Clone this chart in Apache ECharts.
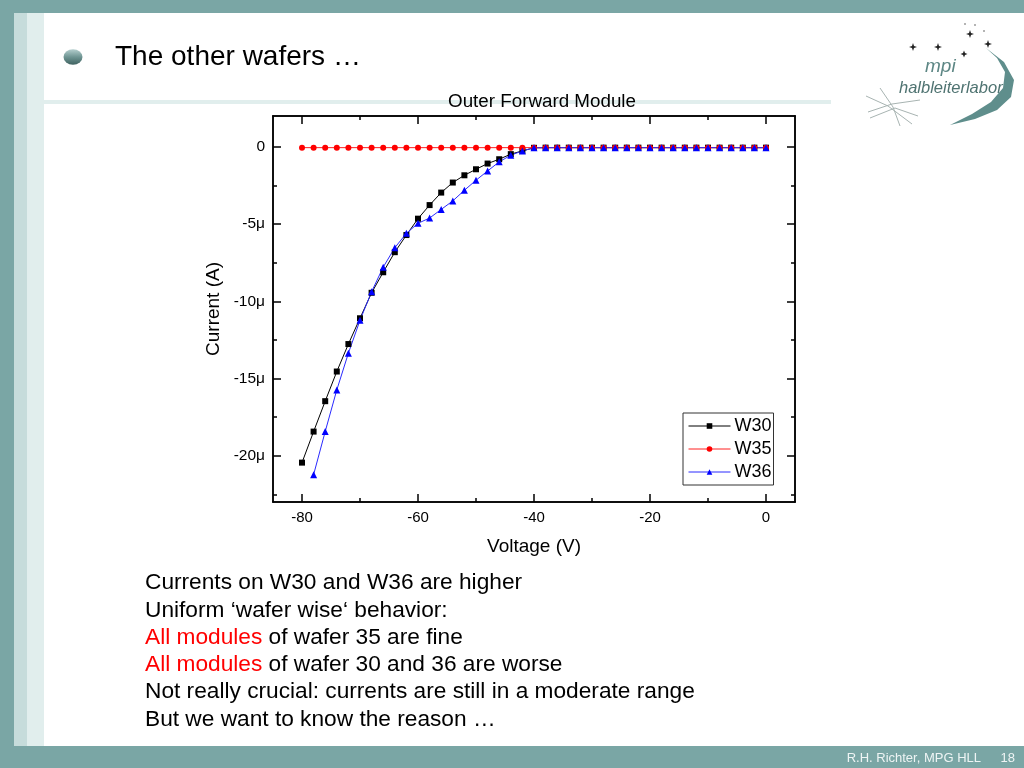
<!DOCTYPE html>
<html>
<head>
<meta charset="utf-8">
<script src="https://cdn.jsdelivr.net/npm/echarts@6/dist/echarts.min.js"></script>
<style>html,body{margin:0;padding:0;background:#fff;}#c{width:1024px;height:768px;}</style>
</head>
<body>
<div id="c"></div>
<script>
// ---- data (current in µA) ----
const voltages = [-80,-78,-76,-74,-72,-70,-68,-66,-64,-62,-60,-58,-56,-54,-52,-50,-48,-46,-44,-42,-40,
  -38,-36,-34,-32,-30,-28,-26,-24,-22,-20,-18,-16,-14,-12,-10,-8,-6,-4,-2,0];
const w30 = [-20.45,-18.44,-16.47,-14.55,-12.77,-11.10,-9.45,-8.12,-6.82,-5.71,-4.65,-3.77,-2.96,-2.31,-1.84,-1.45,-1.08,-0.80,-0.47,-0.26,-0.06,
  -0.05,-0.05,-0.05,-0.05,-0.05,-0.05,-0.05,-0.05,-0.05,-0.05,-0.05,-0.05,-0.05,-0.05,-0.05,-0.05,-0.05,-0.05,-0.05,-0.05];
const w35 = [-0.05,-0.05,-0.05,-0.05,-0.05,-0.05,-0.05,-0.05,-0.05,-0.05,-0.05,-0.05,-0.05,-0.05,-0.05,-0.05,-0.05,-0.05,-0.05,-0.05,-0.05,
  -0.05,-0.05,-0.05,-0.05,-0.05,-0.05,-0.05,-0.05,-0.05,-0.05,-0.05,-0.05,-0.05,-0.05,-0.05,-0.05,-0.05,-0.05,-0.05,-0.05];
const w36 = [null,-21.23,-18.44,-15.74,-13.36,-11.23,-9.38,-7.79,-6.53,-5.60,-4.95,-4.61,-4.05,-3.50,-2.81,-2.16,-1.56,-0.97,-0.54,-0.26,-0.06,
  -0.05,-0.05,-0.05,-0.05,-0.05,-0.05,-0.05,-0.05,-0.05,-0.05,-0.05,-0.05,-0.05,-0.05,-0.05,-0.05,-0.05,-0.05,-0.05,-0.05];
const seriesNames = ['W30','W35','W36'];
const xMajor = [-80,-60,-40,-20,0];
const xMinor = [-70,-50,-30,-10];
const yMajor = [-20,-15,-10,-5,0];
const yMinor = [-22.5,-17.5,-12.5,-7.5,-2.5];
const chartTitle = 'Outer Forward Module';
const xName = 'Voltage (V)';
const yName = 'Current (A)';
const slideTitle = 'The other wafers …';
const bulletLines = [
  ['', 'Currents on W30 and W36 are higher'],
  ['', 'Uniform ‘wafer wise‘ behavior:'],
  ['All modules', ' of wafer 35 are fine'],
  ['All modules', ' of wafer 30 and 36 are worse'],
  ['', 'Not really crucial: currents are still in a moderate range'],
  ['', 'But we want to know the reason …']
];
const footer = 'R.H. Richter, MPG HLL';
const pageNo = '18';

const FONT = '"Liberation Sans", Arial, sans-serif';
const pair = (a) => voltages.map((v, i) => [v, a[i]]);
const yFmt = (v) => v === 0 ? '0' : (v + 'μ');

function xAx(pos, ticks, len, labels, name) {
  return {
    type: 'value', position: pos, min: -85, max: 5,
    axisLine: { show: true, onZero: false, lineStyle: { color: '#000', width: 1.5 } },
    axisTick: { show: true, inside: true, length: len, customValues: ticks, lineStyle: { color: '#000', width: 1.5 } },
    axisLabel: { show: labels, customValues: ticks, fontSize: 15, color: '#000', fontFamily: FONT, margin: 8 },
    splitLine: { show: false },
    name: name || '', nameLocation: 'middle', nameGap: 35,
    nameTextStyle: { fontSize: 19, color: '#000', fontFamily: FONT }
  };
}
function yAx(pos, ticks, len, labels, name) {
  return {
    type: 'value', position: pos, min: -23, max: 2,
    axisLine: { show: true, onZero: false, lineStyle: { color: '#000', width: 1.5 } },
    axisTick: { show: true, inside: true, length: len, customValues: ticks, lineStyle: { color: '#000', width: 1.5 } },
    axisLabel: { show: labels, customValues: ticks, fontSize: 15.5, color: '#000', fontFamily: FONT, margin: 8, formatter: yFmt },
    splitLine: { show: false },
    name: name || '', nameLocation: 'middle', nameGap: 49, nameRotate: 90,
    nameTextStyle: { fontSize: 19, color: '#000', fontFamily: FONT }
  };
}

const graphics = [
  // slide frame
  { type: 'rect', shape: { x: 0, y: 0, width: 1024, height: 13 }, style: { fill: '#7aa6a5' }, silent: true },
  { type: 'rect', shape: { x: 0, y: 0, width: 14, height: 768 }, style: { fill: '#7aa6a5' }, silent: true },
  { type: 'rect', shape: { x: 0, y: 746, width: 1024, height: 22 }, style: { fill: '#7aa6a5' }, silent: true },
  { type: 'rect', shape: { x: 14, y: 13, width: 13, height: 733 }, style: { fill: '#c6dcdb' }, silent: true },
  { type: 'rect', shape: { x: 27, y: 13, width: 17, height: 733 }, style: { fill: '#e1eeed' }, silent: true },
  { type: 'rect', shape: { x: 44, y: 100, width: 787, height: 4 }, style: { fill: '#e1eeed' }, silent: true },
  // bullet
  { type: 'circle', x: 73, y: 57, scaleY: 0.82, shape: { cx: 0, cy: 0, r: 9.5 },
    style: { fill: { type: 'linear', x: 0, y: 0, x2: 0, y2: 1, colorStops: [{ offset: 0, color: '#b5cfce' }, { offset: 0.5, color: '#6f9593' }, { offset: 1, color: '#3f6260' }] } }, silent: true },
  { type: 'text', style: { text: slideTitle, x: 115, y: 57, fontSize: 28, fontFamily: FONT, fill: '#000', verticalAlign: 'middle' }, silent: true },
  // footer
  { type: 'text', style: { text: footer, x: 981, y: 758, fontSize: 13, fontFamily: FONT, fill: '#eef4f4', align: 'right', verticalAlign: 'middle' }, silent: true },
  { type: 'text', style: { text: pageNo, x: 1015, y: 758, fontSize: 13, fontFamily: FONT, fill: '#eef4f4', align: 'right', verticalAlign: 'middle' }, silent: true },
  // logo
  { type: 'polygon', shape: { points: [[986, 48], [1004, 62], [1014, 80], [1011, 97], [997, 110], [975, 119], [950, 125], [972, 114], [991, 102], [1003, 88], [1005, 72], [997, 58]] }, style: { fill: '#5f8e8c' }, silent: true },
  { type: 'text', style: { text: 'mpi', x: 925, y: 67, fontSize: 19, fontStyle: 'italic', fontFamily: FONT, fill: '#5c8684', verticalAlign: 'middle' }, silent: true },
  { type: 'text', style: { text: 'halbleiterlabor', x: 899, y: 88, fontSize: 16.5, fontStyle: 'italic', fontFamily: FONT, fill: '#4f7371', verticalAlign: 'middle' }, silent: true },
  { type: 'polyline', shape: { points: [[868, 112], [892, 104], [920, 100]] }, style: { stroke: '#a8b4b2', lineWidth: 1, fill: null }, silent: true },
  { type: 'polyline', shape: { points: [[870, 118], [895, 108], [918, 116]] }, style: { stroke: '#a8b4b2', lineWidth: 1, fill: null }, silent: true },
  { type: 'polyline', shape: { points: [[866, 96], [888, 106], [912, 124]] }, style: { stroke: '#a8b4b2', lineWidth: 1, fill: null }, silent: true },
  { type: 'polyline', shape: { points: [[880, 88], [893, 107], [900, 126]] }, style: { stroke: '#a8b4b2', lineWidth: 1, fill: null }, silent: true }
];
[[913, 47, 4], [938, 47, 4], [964, 54, 3.5], [970, 34, 4], [988, 44, 4]].forEach(([x, y, r]) => {
  graphics.push({ type: 'polygon', shape: { points: [[x, y - r], [x + 1, y - 1], [x + r, y], [x + 1, y + 1], [x, y + r], [x - 1, y + 1], [x - r, y], [x - 1, y - 1]] }, style: { fill: '#222' }, silent: true });
});
[[965, 24], [975, 25], [984, 31]].forEach(([x, y]) => {
  graphics.push({ type: 'circle', shape: { cx: x, cy: y, r: 0.8 }, style: { fill: '#555' }, silent: true });
});
bulletLines.forEach((ln, i) => {
  graphics.push({ type: 'text', silent: true, style: {
    text: (ln[0] ? '{r|' + ln[0] + '}' : '') + ln[1], x: 145, y: 583 + i * 27.3,
    fontSize: 22.7, fontFamily: FONT, fill: '#000', verticalAlign: 'middle',
    rich: { r: { fill: '#ff0000', fontSize: 22.7, fontFamily: FONT } } } });
});

const chart = echarts.init(document.getElementById('c'), null, { renderer: 'canvas' });
chart.setOption({
  animation: false,
  backgroundColor: '#ffffff',
  title: { text: chartTitle, left: 537, top: 87, textAlign: 'center',
    textStyle: { fontSize: 18.8, fontWeight: 'normal', color: '#000', fontFamily: FONT } },
  grid: { left: 273, right: 229, top: 116, bottom: 266, outerBoundsMode: 'none' },
  xAxis: [xAx('bottom', xMajor, 8, true, xName), xAx('bottom', xMinor, 4, false), xAx('top', xMajor, 8, false), xAx('top', xMinor, 4, false)],
  yAxis: [yAx('left', yMajor, 8, true, yName), yAx('left', yMinor, 4, false), yAx('right', yMajor, 8, false), yAx('right', yMinor, 4, false)],
  legend: {
    data: seriesNames, orient: 'vertical', left: 683, top: 413, selectedMode: false,
    itemWidth: 42, itemHeight: 7, itemGap: 5, padding: [4, 2, 4, 5],
    borderColor: '#333', borderWidth: 1, backgroundColor: '#fff',
    lineStyle: { width: 1 },
    textStyle: { fontSize: 18, color: '#000', fontFamily: FONT, padding: [0, 0, 0, -1] }
  },
  graphic: graphics,
  series: [
    { name: 'W30', type: 'line', data: pair(w30), symbol: 'rect', symbolSize: 6, color: '#000000', lineStyle: { width: 1, color: '#000' }, itemStyle: { color: '#000' } },
    { name: 'W35', type: 'line', data: pair(w35), symbol: 'circle', symbolSize: 6, color: '#ff0000', lineStyle: { width: 1, color: '#ff2020' }, itemStyle: { color: '#ff0000' } },
    { name: 'W36', type: 'line', data: pair(w36), symbol: 'triangle', symbolSize: 7, color: '#0000ff', lineStyle: { width: 1, color: '#2a2aff' }, itemStyle: { color: '#0000ff' } }
  ]
});
</script>
</body>
</html>
